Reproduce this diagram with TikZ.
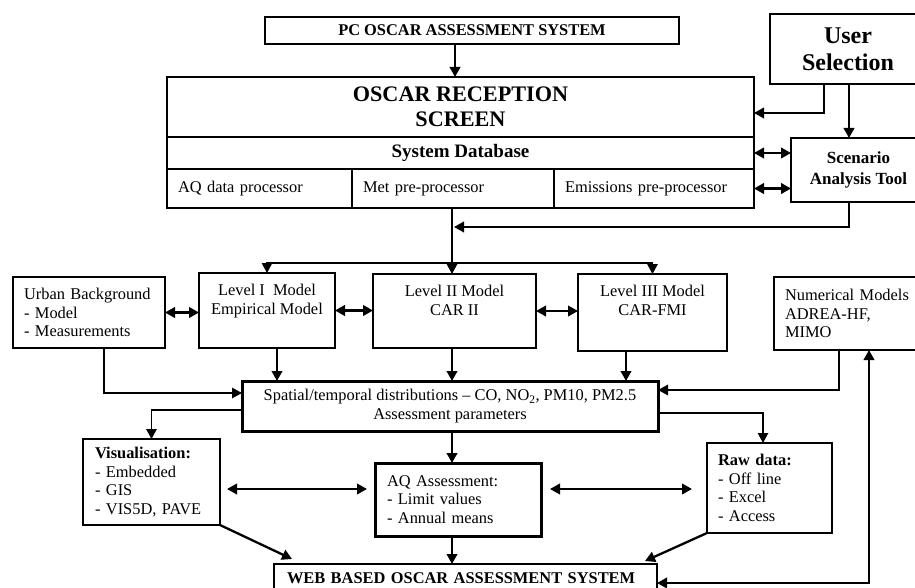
\documentclass[tikz,border=0pt]{standalone}
\usepackage{fontspec}
\setmainfont{Liberation Serif}
\usetikzlibrary{arrows.meta}

\newcommand\boxfont{\fontsize{16.4}{18.5}\selectfont}

\begin{document}
\begin{tikzpicture}[x=1pt, y=-1pt, >={Triangle[length=10pt,width=10.5pt]}, font=\boxfont,
                    plain box/.style={draw,line width=1.2pt,inner sep=0pt,outer sep=0pt,anchor=north west},
                    heavy box/.style={plain box,line width=3pt},
                    left text/.style={inner xsep=11pt,align=left,text width=#1},
                    model text/.style={anchor=north,align=center,yshift=-8pt},
                    thin link/.style={line width=1.2pt},
                    heavy link/.style={line width=2.3pt}]

  \useasboundingbox (0,0) rectangle (915,588);
  \clip (0,0) rectangle (915,588);

  \node[plain box,minimum width=414pt,minimum height=27pt,font=\boxfont\bfseries] (1) at (265,17) {PC OSCAR ASSESSMENT SYSTEM};
  \node[plain box,minimum width=156pt,minimum height=70pt,align=center,font=\bfseries\fontsize{24}{27}\selectfont] (2) at (770,14) {User\\Selection};
  \node[plain box,minimum width=587pt,minimum height=60pt,align=center,font=\bfseries\fontsize{22.2}{25}\selectfont] (3) at (167,77) {OSCAR RECEPTION\\SCREEN};
  \node[plain box,minimum width=587pt,minimum height=32pt,font=\bfseries\fontsize{19}{21}\selectfont] (4) at (167,137) {System Database};
  \node[plain box,left text=163pt,minimum height=39pt] (5) at (167,169) {AQ data processor};
  \node[plain box,left text=180pt,minimum height=39pt] (6) at (352,169) {Met pre-processor};
  \node[plain box,left text=178pt,minimum height=39pt] (7) at (554,169) {Emissions pre-processor};
  \node[plain box,minimum width=135pt,minimum height=64pt,align=center,font=\bfseries\fontsize{17}{20.5}\selectfont] (8) at (791,138) {Scenario\\Analysis Tool};

  \node[plain box,left text=130pt,minimum height=71pt] (9) at (13,277) {Urban Background\\- Model\\- Measurements};
  \node[plain box,minimum width=136pt,minimum height=75pt,label={[model text]north:Level I\ \ Model\\Empirical Model}] (10) at (199,273) {};
  \node[plain box,minimum width=163pt,minimum height=74pt,label={[model text]north:Level II Model\\CAR II}] (11) at (373,274) {};
  \node[plain box,minimum width=149pt,minimum height=77pt,label={[model text]north:Level III Model\\CAR-FMI}] (12) at (578,274) {};
  \node[plain box,left text=140pt,minimum height=73pt] (13) at (774,277) {Numerical Models\\ADREA-HF,\\MIMO};

  \node[heavy box,minimum width=416pt,minimum height=50pt,align=center] (14) at (242,381) {Spatial/temporal distributions -- CO, NO\textsubscript{2}, PM10, PM2.5\\Assessment parameters};
  \node[plain box,left text=113pt,inner xsep=12pt,minimum height=86pt] (15) at (83,439) {\textbf{Visualisation:}\\- Embedded\\- GIS\\- VIS5D, PAVE};
  \node[heavy box,left text=142pt,inner xsep=12pt,minimum height=73pt] (16) at (375,463) {AQ Assessment:\\- Limit values\\- Annual means};
  \node[plain box,left text=103pt,minimum height=90pt] (17) at (707,443) {\textbf{Raw data:}\\- Off line\\- Excel\\- Access};
  \node[plain box,left text=357pt,inner xsep=13pt,minimum height=28pt,font=\boxfont\bfseries] (18) at (274,564) {WEB BASED OSCAR ASSESSMENT SYSTEM};

  \coordinate (p1) at (455,0);
  \coordinate (p2) at (824,113);
  \coordinate (p3) at (849,227);
  \coordinate (p4) at (454,227);
  \coordinate (p5) at (452,263);
  \coordinate (p6) at (277,0);
  \coordinate (p7) at (626,0);
  \coordinate (p8) at (104,393);
  \coordinate (p9) at (839,390);
  \coordinate (p10) at (0,410);
  \coordinate (p11) at (763,413);
  \coordinate (p12) at (0,489);
  \coordinate (p13) at (292,559);
  \coordinate (p14) at (645,561);
  \coordinate (p15) at (869,583);

  \draw[heavy link,->] (1.south -| p1) -- (3.north -| p1);
  \draw[heavy link,->] (2.south -| p2) |- (3.east |- p2);
  \draw[heavy link,->] (2.south -| p3) -- (8.north -| p3);
  \draw[heavy link,<->] (4.east) -- (8.west |- 4.east);
  \draw[heavy link,<->] (7.east) -- (8.west |- 7.east);
  \draw[heavy link,->] (8.south -| p3) |- (p4);
  \draw[thin link] (6.south -| p5) -- (p5);
  \draw[thin link,->] (p5) -| (10.north);
  \draw[thin link,->] (p5) -| (12.north);
  \draw[thin link,->] (p5) -- (11.north -| p5);

  \draw[heavy link,<->] (9.east) -- (10.west |- 9.east);
  \draw[heavy link,<->] (10.east) -- (11.west |- 10.east);
  \draw[heavy link,<->] (11.east) -- (12.west |- 11.east);
  \draw[heavy link,->] (10.south -| p6) -- (14.north -| p6);
  \draw[heavy link,->] (11.south -| p5) -- (14.north -| p5);
  \draw[heavy link,->] (12.south -| p7) -- (14.north -| p7);
  \draw[thin link,->] (9.south -| p8) |- (14.west |- p8);
  \draw[thin link,line width=1.6pt,->] (13.south -| p9) |- (14.east |- p9);

  \draw[thin link,->] (14.west |- p10) -| (15.north);
  \draw[thin link,->] (14.east |- p11) -| (17.north -| p11);
  \draw[heavy link,->] (14.south -| p5) -- (16.north -| p5);
  \draw[heavy link,<->,shorten <=7pt,shorten >=8pt] (15.east |- p12) -- (16.west |- p12);
  \draw[heavy link,<->,shorten <=9pt,shorten >=15pt] (16.east |- p12) -- (17.west |- p12);
  \draw[heavy link,->] (16.south -| p5) -- (18.north -| p5);
  \draw[heavy link,->] (15.south east) -- (p13);
  \draw[heavy link,->] (17.south west) -- (p14);
  \draw[heavy link,<->] (18.east |- p15) -| (13.south -| p15);

\end{tikzpicture}
\end{document}
